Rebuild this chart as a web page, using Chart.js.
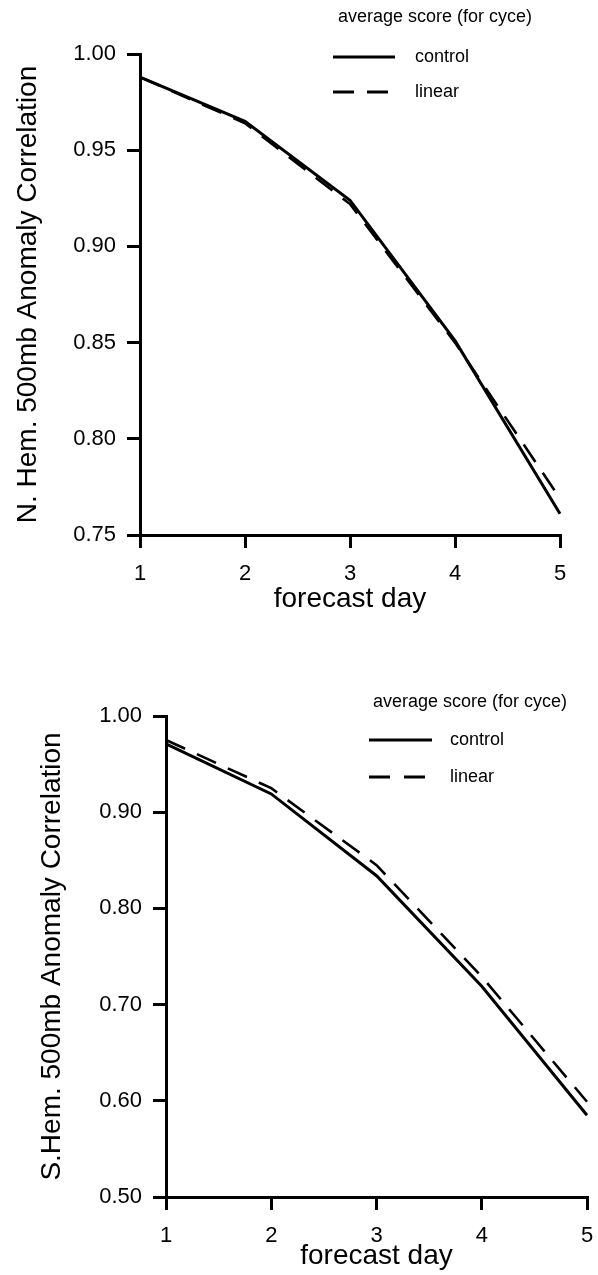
<!DOCTYPE html>
<html>
<head>
<meta charset="utf-8">
<script src="https://cdn.jsdelivr.net/npm/chart.js@4.4.1/dist/chart.umd.min.js"></script>
<style>
  html, body { margin: 0; padding: 0; background: #fff; }
  #wrap { position: relative; width: 598px; height: 1275px; }
  canvas { position: absolute; left: 0; }
  #north { top: 0; }
  #south { top: 630px; }
</style>
</head>
<body>
<div id="wrap">
  <canvas id="north" width="598" height="630"></canvas>
  <canvas id="south" width="598" height="645"></canvas>
</div>
<script>
// values
const forecastDays = ['1', '2', '3', '4', '5'];
const seriesNames = ['control', 'linear'];
const legendTitle = 'average score (for cyce)';

const nhControl = [0.988, 0.965, 0.924, 0.851, 0.761];
const nhLinear  = [0.988, 0.964, 0.922, 0.850, 0.769];
const nhTicks   = [0.75, 0.80, 0.85, 0.90, 0.95, 1.00];

const shControl = [0.971, 0.919, 0.834, 0.719, 0.585];
const shLinear  = [0.975, 0.925, 0.845, 0.729, 0.599];
const shTicks   = [0.50, 0.60, 0.70, 0.80, 0.90, 1.00];

Chart.defaults.font.family = '"Liberation Sans", Arial, Helvetica, sans-serif';
Chart.defaults.color = '#000';

// legend lives partly above the plot, so put its box where the figure has it
const placeLegend = {
    id: 'placeLegend',
    afterLayout(chart, args, opts) {
        const lg = chart.legend;
        lg.left = opts.left;
        lg.top = opts.top;
        lg.right = opts.right;
        lg.bottom = opts.top + 150;
        lg.width = lg.right - lg.left;
        lg.height = lg.bottom - lg.top;
    }
};

function drawPanel(canvasId, p) {
    const axisGrid = {
        drawOnChartArea: false,
        drawTicks: true,
        tickLength: 13,
        lineWidth: 3,
        color: '#000'
    };
    const axisBorder = { display: true, width: 3, color: '#000' };

    return new Chart(document.getElementById(canvasId), {
        type: 'line',
        data: {
            labels: forecastDays,
            datasets: [{
                label: seriesNames[0],
                data: p.control,
                borderColor: '#000',
                borderWidth: 3,
                pointRadius: 0,
                tension: 0,
                clip: 6
            }, {
                label: seriesNames[1],
                data: p.linear,
                borderColor: '#000',
                borderWidth: 2.6,
                borderDash: [21, 13],
                pointRadius: 0,
                tension: 0,
                clip: 6
            }]
        },
        options: {
            responsive: false,
            animation: false,
            devicePixelRatio: 1,
            events: [],
            layout: {
                padding: { left: 0, top: p.plotTop, right: 598 - p.plotRight, bottom: 0 }
            },
            scales: {
                x: {
                    type: 'category',
                    offset: false,
                    grid: axisGrid,
                    border: axisBorder,
                    ticks: { font: { size: 22 }, padding: 13, maxRotation: 0, autoSkip: false },
                    title: {
                        display: true,
                        text: 'forecast day',
                        font: { size: 28, lineHeight: 1.2 },
                        padding: { top: 0, bottom: p.xTitlePad }
                    },
                    afterFit: s => {
                        s.height = p.height - p.plotBottom;
                        // the plot edge is fixed by layout padding, not by label overhang
                        s.paddingLeft = 0;
                        s.paddingRight = 0;
                    }
                },
                y: {
                    type: 'linear',
                    min: p.ticks[0],
                    max: p.ticks[p.ticks.length - 1],
                    grid: axisGrid,
                    border: axisBorder,
                    afterBuildTicks: s => { s.ticks = p.ticks.map(v => ({ value: v })); },
                    ticks: { font: { size: 22 }, padding: 11, autoSkip: false, callback: v => v.toFixed(2) },
                    title: {
                        display: true,
                        text: p.yTitle,
                        font: { size: 28, lineHeight: 1.2 },
                        padding: { top: p.yTitlePad, bottom: 0 }
                    },
                    afterFit: s => { s.width = p.plotLeft; }
                }
            },
            plugins: {
                tooltip: { enabled: false },
                legend: {
                    position: 'chartArea',
                    align: 'start',
                    title: {
                        display: true,
                        text: legendTitle,
                        position: 'end',
                        color: '#000',
                        font: { size: 18, lineHeight: p.legendTitleLH },
                        padding: { top: 0, bottom: p.legendTitleGap }
                    },
                    labels: {
                        usePointStyle: true,
                        pointStyle: 'line',
                        pointStyleWidth: p.legendBox,
                        padding: p.legendPad,
                        color: '#000',
                        font: { size: 18 },
                        generateLabels: chart => chart.data.datasets.map((ds, i) => ({
                            text: ds.label,
                            datasetIndex: i,
                            hidden: false,
                            fontColor: '#000',
                            fillStyle: '#000',
                            strokeStyle: '#000',
                            lineWidth: 3,
                            pointStyle: 'line',
                            lineDash: p.legendDash[i],
                            lineDashOffset: 0
                        }))
                    }
                },
                placeLegend: p.legendAt
            }
        },
        plugins: [placeLegend]
    });
}

drawPanel('north', {
    control: nhControl,
    linear: nhLinear,
    ticks: nhTicks,
    yTitle: 'N. Hem. 500mb Anomaly Correlation',
    height: 630, plotLeft: 140, plotRight: 560, plotTop: 54, plotBottom: 535,
    xTitlePad: 14, yTitlePad: 11,
    legendTitleLH: 1.2, legendTitleGap: 1.4, legendPad: 17, legendBox: 73,
    legendDash: [[62, 200], [21, 13, 21, 18]],
    legendAt: { left: 316, top: 8, right: 532 }
});

drawPanel('south', {
    control: shControl,
    linear: shLinear,
    ticks: shTicks,
    yTitle: 'S.Hem. 500mb Anomaly Correlation',
    height: 645, plotLeft: 166, plotRight: 587, plotTop: 86, plotBottom: 567,
    xTitlePad: 2, yTitlePad: 35,
    legendTitleLH: 1, legendTitleGap: 1, legendPad: 19, legendBox: 72,
    legendDash: [[63, 200], [21, 14, 21, 16]],
    legendAt: { left: 350, top: 63, right: 567 }
});
</script>
</body>
</html>
